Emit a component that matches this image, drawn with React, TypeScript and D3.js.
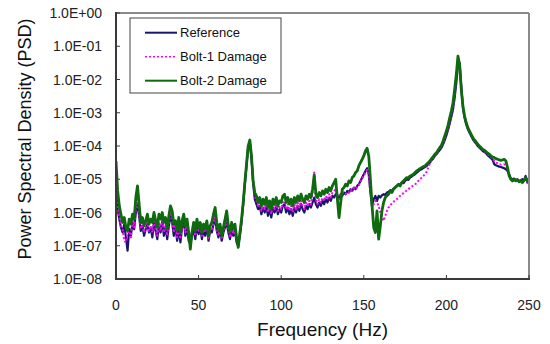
import React from "react";
import * as d3 from "d3";

// Frequency bins (Hz), 1 Hz resolution
const freqHz: number[] = d3.range(0, 251, 1);

// log10(PSD), one value per Hz (0..250)
const referenceLog: number[] = [
  -5.3, -5.9, -6.2, -6.45, -6.6, -6.35, -6.75, -7.15, -6.5, -6.7,
  -6.3, -6.5, -6.0, -5.75, -6.1, -6.55, -6.4, -6.7, -6.5, -6.35,
  -6.6, -6.45, -6.75, -6.3, -6.55, -6.8, -6.35, -6.6, -6.25, -6.7,
  -6.45, -6.8, -6.4, -6.1, -6.3, -6.7, -6.4, -6.85, -6.5, -6.9,
  -6.45, -6.2, -6.7, -6.45, -6.85, -6.95, -6.7, -6.5, -6.8, -6.4,
  -6.65, -6.45, -6.8, -6.5, -6.7, -6.4, -6.85, -6.55, -6.6, -6.35,
  -6.2, -6.55, -6.75, -6.5, -6.85, -6.6, -6.45, -6.3, -6.6, -6.8,
  -6.5, -6.7, -6.55, -6.9, -7.0, -6.7, -6.3, -5.75, -5.15, -4.6,
  -4.05, -3.88, -4.35, -5.1, -5.6, -5.75, -5.9, -5.8, -6.05, -5.85,
  -6.0, -5.8, -6.1, -5.9, -6.15, -5.85, -6.0, -5.8, -6.05, -5.9,
  -6.0, -5.8, -5.75, -6.0, -5.85, -6.05, -5.9, -6.1, -5.85, -6.0,
  -5.8, -5.95, -5.75, -5.9, -6.0, -5.8, -5.9, -5.75, -5.85, -5.7,
  -5.55, -5.75, -5.85, -5.7, -5.8, -5.65, -5.75, -5.6, -5.7, -5.55,
  -5.65, -5.5, -5.55, -5.45, -5.5, -5.55, -5.45, -5.5, -5.4, -5.45,
  -5.35, -5.4, -5.3, -5.35, -5.25, -5.3, -5.2, -5.15, -5.05, -4.95,
  -4.85, -4.75, -4.67, -4.85, -5.4, -5.82, -5.6, -5.5, -5.65, -5.5,
  -5.55, -5.48, -5.45, -5.47, -5.4, -5.38, -5.33, -5.35, -5.28, -5.25,
  -5.2, -5.17, -5.15, -5.1, -5.12, -5.05, -5.0, -5.02, -4.95, -4.92,
  -4.88, -4.85, -4.8, -4.76, -4.72, -4.7, -4.66, -4.63, -4.6, -4.55,
  -4.5, -4.43, -4.38, -4.3, -4.25, -4.18, -4.12, -4.05, -3.95, -3.82,
  -3.68, -3.52, -3.32, -3.12, -2.9, -2.55, -2.1, -1.55, -1.5, -2.2,
  -2.85, -3.15, -3.35, -3.5, -3.6, -3.7, -3.8, -3.87, -3.93, -4.0,
  -4.05, -4.1, -4.15, -4.18, -4.22, -4.28, -4.32, -4.37, -4.42, -4.55,
  -4.58, -4.6, -4.62, -4.63, -4.65, -4.67, -4.7, -4.75, -4.85, -4.98,
  -5.0, -4.98, -5.02, -5.0, -5.05, -5.03, -5.0, -5.05, -4.9, -5.1,
  -5.05,
];

const bolt1Log: number[] = [
  -5.2, -5.8, -6.15, -6.4, -6.5, -6.85, -6.9, -6.6, -6.55, -6.75,
  -6.2, -6.45, -5.9, -5.6, -6.05, -6.5, -6.3, -6.6, -6.45, -6.25,
  -6.55, -6.4, -6.6, -6.2, -6.5, -6.7, -6.3, -6.55, -6.2, -6.6,
  -6.35, -6.7, -6.3, -6.0, -6.2, -6.6, -6.35, -6.75, -6.45, -6.8,
  -6.4, -6.15, -6.6, -6.4, -6.75, -6.9, -6.6, -6.4, -6.7, -6.35,
  -6.55, -6.4, -6.7, -6.45, -6.6, -6.35, -6.8, -6.5, -6.55, -6.3,
  -6.1, -6.5, -6.7, -6.45, -6.8, -6.55, -6.4, -6.25, -6.55, -6.75,
  -6.45, -6.65, -6.5, -6.85, -6.95, -6.65, -6.25, -5.72, -5.12, -4.58,
  -4.02, -3.85, -4.32, -5.05, -5.5, -5.65, -5.8, -5.7, -5.95, -5.75,
  -5.9, -5.7, -6.0, -5.8, -6.05, -5.75, -5.9, -5.7, -5.95, -5.8,
  -5.9, -5.7, -5.65, -5.9, -5.75, -5.95, -5.8, -6.0, -5.75, -5.9,
  -5.7, -5.85, -5.65, -5.8, -5.9, -5.7, -5.8, -5.65, -5.75, -5.4,
  -4.8, -5.6, -5.75, -5.6, -5.7, -5.55, -5.65, -5.5, -5.6, -5.45,
  -5.55, -5.4, -5.35, -5.3, -5.45, -5.6, -5.45, -5.4, -5.42, -5.45,
  -5.38, -5.4, -5.32, -5.35, -5.27, -5.3, -5.22, -5.17, -5.08, -4.98,
  -4.9, -4.8, -4.72, -4.9, -5.35, -5.7, -5.75, -5.65, -5.7, -5.8,
  -6.0, -6.15, -6.25, -6.1, -5.95, -5.85, -5.8, -5.72, -5.68, -5.63,
  -5.6, -5.55, -5.5, -5.45, -5.42, -5.38, -5.33, -5.3, -5.25, -5.22,
  -5.18, -5.15, -5.12, -5.05, -5.0, -4.95, -4.9, -4.85, -4.78, -4.65,
  -4.52, -4.42, -4.36, -4.28, -4.22, -4.15, -4.08, -4.02, -3.9, -3.77,
  -3.62, -3.46, -3.25, -3.05, -2.82, -2.45, -1.98, -1.45, -1.5, -2.25,
  -2.82, -3.12, -3.32, -3.48, -3.58, -3.68, -3.78, -3.85, -3.9, -3.98,
  -4.03, -4.08, -4.12, -4.16, -4.2, -4.25, -4.28, -4.33, -4.37, -4.45,
  -4.5, -4.52, -4.55, -4.56, -4.55, -4.55, -4.58, -4.7, -4.88, -5.0,
  -5.02, -5.0, -5.04, -5.01, -5.06, -5.04, -5.05, -5.04, -4.95, -5.08,
  -5.03,
];

const bolt2Log: number[] = [
  -4.45, -5.35, -5.8, -6.05, -6.3, -6.15, -6.45, -6.55, -6.2, -6.35,
  -6.05, -6.2, -5.55, -5.2, -5.75, -6.3, -6.15, -6.4, -6.25, -6.05,
  -6.35, -6.2, -6.3, -6.0, -6.25, -6.45, -6.05, -6.2, -6.0, -6.3,
  -6.15, -6.5, -6.1, -5.8, -5.95, -6.35, -6.25, -6.55, -6.15, -6.6,
  -6.25, -6.05, -6.4, -6.2, -6.6, -7.1, -6.6, -6.3, -6.55, -6.2,
  -6.45, -6.3, -6.6, -6.35, -6.5, -6.25, -6.7, -6.4, -6.3, -6.05,
  -5.85, -6.3, -6.55, -6.35, -6.7, -6.45, -6.2, -5.95, -6.4, -6.6,
  -6.3, -6.5, -6.35, -6.75, -7.05, -6.6, -6.2, -5.7, -5.1, -4.55,
  -4.0, -3.82, -4.3, -5.05, -5.4, -5.5, -5.7, -5.55, -5.8, -5.6,
  -5.75, -5.55, -5.85, -5.65, -5.9, -5.6, -5.75, -5.55, -5.8, -5.65,
  -5.7, -5.5, -5.45, -5.7, -5.55, -5.75, -5.6, -5.8, -5.55, -5.7,
  -5.5, -5.65, -5.45, -5.6, -5.7, -5.5, -5.6, -5.45, -5.55, -5.3,
  -4.87, -5.45, -5.55, -5.4, -5.5, -5.35, -5.45, -5.3, -5.4, -5.25,
  -5.35, -5.2, -5.1, -5.0, -5.6, -6.15, -5.7, -5.3, -5.25, -5.15,
  -5.2, -5.05, -5.1, -4.95, -4.9, -4.8, -4.75, -4.6, -4.5, -4.4,
  -4.3, -4.15, -4.07, -4.3, -5.0, -5.8, -6.45, -6.6, -5.95, -6.8,
  -6.4, -5.95, -5.7, -5.55, -5.5, -5.45, -5.35, -5.4, -5.3, -5.25,
  -5.2, -5.15, -5.2, -5.1, -5.05, -5.0, -4.95, -4.97, -4.9, -4.88,
  -4.85, -4.8, -4.75, -4.72, -4.68, -4.65, -4.62, -4.6, -4.55, -4.5,
  -4.45, -4.38, -4.32, -4.25, -4.2, -4.12, -4.05, -3.98, -3.85, -3.7,
  -3.55, -3.38, -3.15, -2.95, -2.7, -2.3, -1.85, -1.3, -1.55, -2.3,
  -2.8, -3.1, -3.3, -3.45, -3.55, -3.65, -3.75, -3.82, -3.88, -3.95,
  -4.0, -4.05, -4.1, -4.13, -4.17, -4.22, -4.25, -4.3, -4.33, -4.35,
  -4.38, -4.4, -4.42, -4.43, -4.42, -4.4, -4.45, -4.65, -4.9, -5.0,
  -5.05, -5.0, -5.05, -5.02, -5.08, -5.05, -5.1, -5.03, -4.95, -5.05,
  -5.0,
];

const seriesNames: string[] = ["Reference", "Bolt-1 Damage", "Bolt-2 Damage"];
const xTicks: number[] = [0, 50, 100, 150, 200, 250];
const yTicks: number[] = [1, 1e-1, 1e-2, 1e-3, 1e-4, 1e-5, 1e-6, 1e-7, 1e-8];
const yTickLabels: string[] = [
  "1.0E+00", "1.0E-01", "1.0E-02", "1.0E-03", "1.0E-04",
  "1.0E-05", "1.0E-06", "1.0E-07", "1.0E-08",
];

const FONT = "'Liberation Sans', Arial, sans-serif";

export default function App() {
  const left = 116, right = 529, top = 13, bottom = 279;
  const x = d3.scaleLinear().domain([0, 250]).range([left, right]);
  const y = d3.scaleLog().domain([1e-8, 1]).range([bottom, top]);

  const mk = (logs: number[]) =>
    d3
      .line<number>()
      .x((_, i) => x(freqHz[i]))
      .y((v) => y(Math.pow(10, v)))(logs) || "";

  const styles = [
    { color: "#16166b", width: 2.2, dash: undefined as string | undefined },
    { color: "#ff00ff", width: 2, dash: "2,2" },
    { color: "#0d6a0d", width: 2.8, dash: undefined as string | undefined },
  ];
  const data = [referenceLog, bolt1Log, bolt2Log];

  return (
    <svg
      width={550}
      height={344}
      style={{ position: "absolute", left: 0, top: 0, background: "#fff" }}
      fontFamily={FONT}
    >
      <defs>
        <clipPath id="plot">
          <rect x={left} y={top} width={right - left} height={bottom - top} />
        </clipPath>
      </defs>
      <rect x={0} y={0} width={550} height={344} fill="#fff" />

      <g clipPath="url(#plot)">
        {data.map((d, i) => (
          <path
            key={i}
            d={mk(d)}
            fill="none"
            stroke={styles[i].color}
            strokeWidth={styles[i].width}
            strokeDasharray={styles[i].dash}
            strokeLinejoin="round"
          />
        ))}
      </g>

      {/* frame */}
      <line x1={left} y1={top} x2={right} y2={top} stroke="#8a8a8a" strokeWidth={2} />
      <line x1={right} y1={top} x2={right} y2={bottom} stroke="#8a8a8a" strokeWidth={2} />
      <line x1={left} y1={top - 1} x2={left} y2={bottom + 1} stroke="#3a3a3a" strokeWidth={2} />
      <line x1={left - 1} y1={bottom} x2={right + 1} y2={bottom} stroke="#3a3a3a" strokeWidth={2} />

      {/* y ticks */}
      {yTicks.map((t, i) => (
        <g key={"y" + i}>
          <line x1={left} x2={left + 4} y1={y(t)} y2={y(t)} stroke="#3a3a3a" strokeWidth={1} />
          <text x={102} y={y(t) + 5} textAnchor="end" fontSize={14} fill="#222">
            {yTickLabels[i]}
          </text>
        </g>
      ))}

      {/* x ticks */}
      {xTicks.map((t) => (
        <g key={"x" + t}>
          <line x1={x(t)} x2={x(t)} y1={bottom} y2={bottom - 4} stroke="#3a3a3a" strokeWidth={1} />
          <text x={x(t)} y={310} textAnchor="middle" fontSize={14} fill="#222">
            {t}
          </text>
        </g>
      ))}

      {/* axis titles */}
      <text x={322.5} y={336} textAnchor="middle" fontSize={19} fill="#111">
        Frequency (Hz)
      </text>
      <text
        transform={`translate(31,139) rotate(-90)`}
        textAnchor="middle"
        fontSize={18}
        fill="#111"
      >
        Power Spectral Density (PSD)
      </text>

      {/* legend */}
      <rect x={130} y={18} width={151} height={75} fill="#fff" stroke="#444" strokeWidth={1} />
      {seriesNames.map((n, i) => {
        const ry = 32.7 + i * 24;
        return (
          <g key={n}>
            <line
              x1={145}
              x2={177}
              y1={ry}
              y2={ry}
              stroke={styles[i].color}
              strokeWidth={i === 1 ? 1.6 : 2}
              strokeDasharray={styles[i].dash}
            />
            <text x={180} y={ry + 4.5} fontSize={13} fill="#111">
              {n}
            </text>
          </g>
        );
      })}
    </svg>
  );
}
